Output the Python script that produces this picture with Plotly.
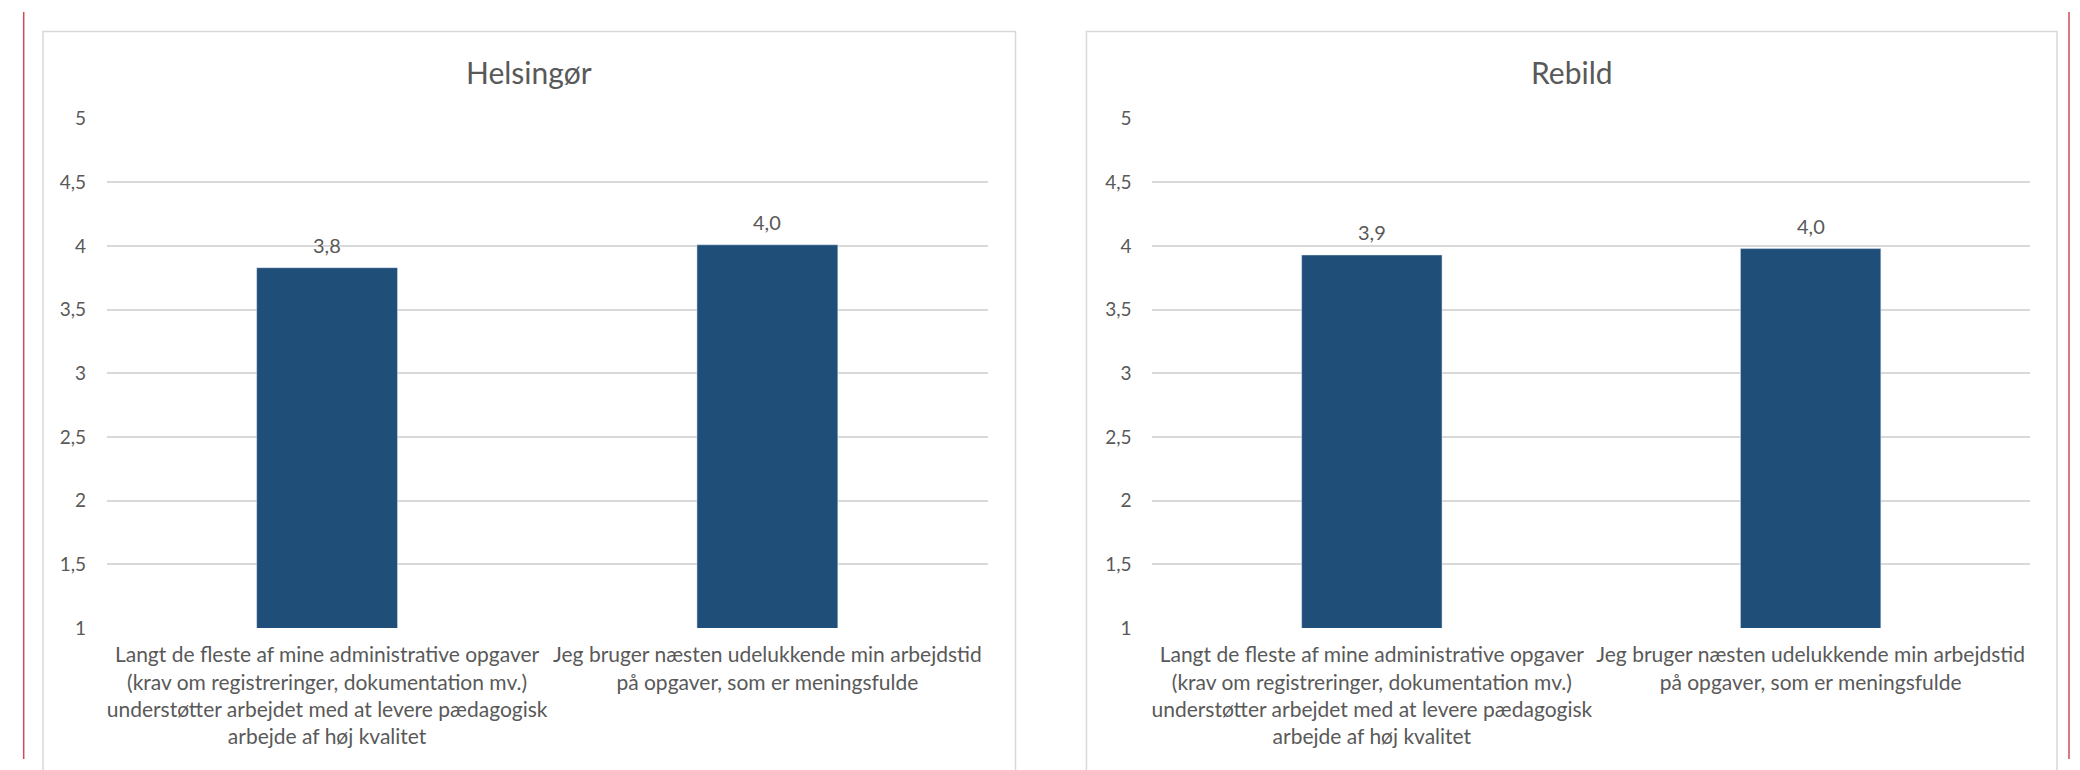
import plotly.graph_objects as go

W, H = 2080, 770

categories = [
    "Langt de fleste af mine administrative opgaver<br>(krav om registreringer, dokumentation mv.)<br>understøtter arbejdet med at levere pædagogisk<br>arbejde af høj kvalitet",
    "Jeg bruger næsten udelukkende min arbejdstid<br>på opgaver, som er meningsfulde",
]
titles = ["Helsingør", "Rebild"]
helsingor_values = [3.83, 4.01]
rebild_values = [3.93, 3.98]
value_labels_helsingor = ["3,8", "4,0"]
value_labels_rebild = ["3,9", "4,0"]
y_tickvals = [1, 1.5, 2, 2.5, 3, 3.5, 4, 4.5, 5]
y_ticktext = ["1", "1,5", "2", "2,5", "3", "3,5", "4", "4,5", "5"]

FONT = "Lato"
TXT = "#595959"
BAR = "#1F4E79"
GRID = "#D9D9D9"

fig = go.Figure()

panels = [
    dict(values=helsingor_values, labels=value_labels_helsingor, title=titles[0],
         xd=(106 / W, 987 / W), box=(42, 1015), xa="x", ya="y"),
    dict(values=rebild_values, labels=value_labels_rebild, title=titles[1],
         xd=(1152 / W, 2030 / W), box=(1086, 2057), xa="x2", ya="y2"),
]

ydom = (1 - 635 / H, 1 - 110 / H)

for i, p in enumerate(panels):
    fig.add_trace(go.Bar(x=categories, y=p["values"], marker_color=BAR,
                         xaxis=p["xa"], yaxis=p["ya"], showlegend=False,
                         hoverinfo="skip"))
    for c, v, t in zip(categories, p["values"], p["labels"]):
        fig.add_annotation(x=c, y=v, text=t, xref=p["xa"], yref=p["ya"],
                           xanchor="center", yanchor="bottom", yshift=9,
                           showarrow=False,
                           font=dict(family=FONT, size=20, color=TXT))
    x0, x1 = p["box"]
    fig.add_shape(type="rect", xref="paper", yref="paper",
                  x0=x0 / W, x1=x1 / W, y0=-0.05, y1=1 - 20 / H,
                  line=dict(color=GRID, width=1.5), fillcolor="rgba(0,0,0,0)",
                  layer="below")
    fig.add_annotation(x=(x0 + x1) / 2 / W, y=1 - 62 / H, xref="paper", yref="paper",
                       text=p["title"], showarrow=False,
                       xanchor="center", yanchor="middle",
                       font=dict(family=FONT, size=30, color=TXT))

axis_x = dict(showgrid=False, showline=False, zeroline=False, ticks="outside",
              ticklen=8, tickcolor="rgba(0,0,0,0)",
              tickfont=dict(family=FONT, size=21, color=TXT), fixedrange=True)
axis_y = dict(range=[1, 5], tickvals=y_tickvals, ticktext=y_ticktext,
              showgrid=True, gridcolor=GRID, gridwidth=1.5, zeroline=False,
              showline=False, ticks="outside", ticklen=16,
              tickcolor="rgba(0,0,0,0)",
              tickfont=dict(family=FONT, size=19, color=TXT), domain=list(ydom))

fig.update_layout(
    width=W, height=H,
    margin=dict(l=0, r=0, t=0, b=0),
    paper_bgcolor="white", plot_bgcolor="white",
    bargap=0.68,
    xaxis=dict(domain=list(panels[0]["xd"]), anchor="y", **axis_x),
    yaxis=dict(anchor="x", **axis_y),
    xaxis2=dict(domain=list(panels[1]["xd"]), anchor="y2", **axis_x),
    yaxis2=dict(anchor="x2", **axis_y),
)

# thin red page-border lines at the left and right edges
for xp in (22.7, 2069):
    fig.add_shape(type="line", xref="paper", yref="paper",
                  x0=xp / W, x1=xp / W, y0=0, y1=1,
                  line=dict(color="#D04A5A", width=1.5))

fig.write_html(
    "out.html",
    config={"displayModeBar": False},
    post_script="document.body.style.margin='0';document.body.style.overflow='hidden';",
)
